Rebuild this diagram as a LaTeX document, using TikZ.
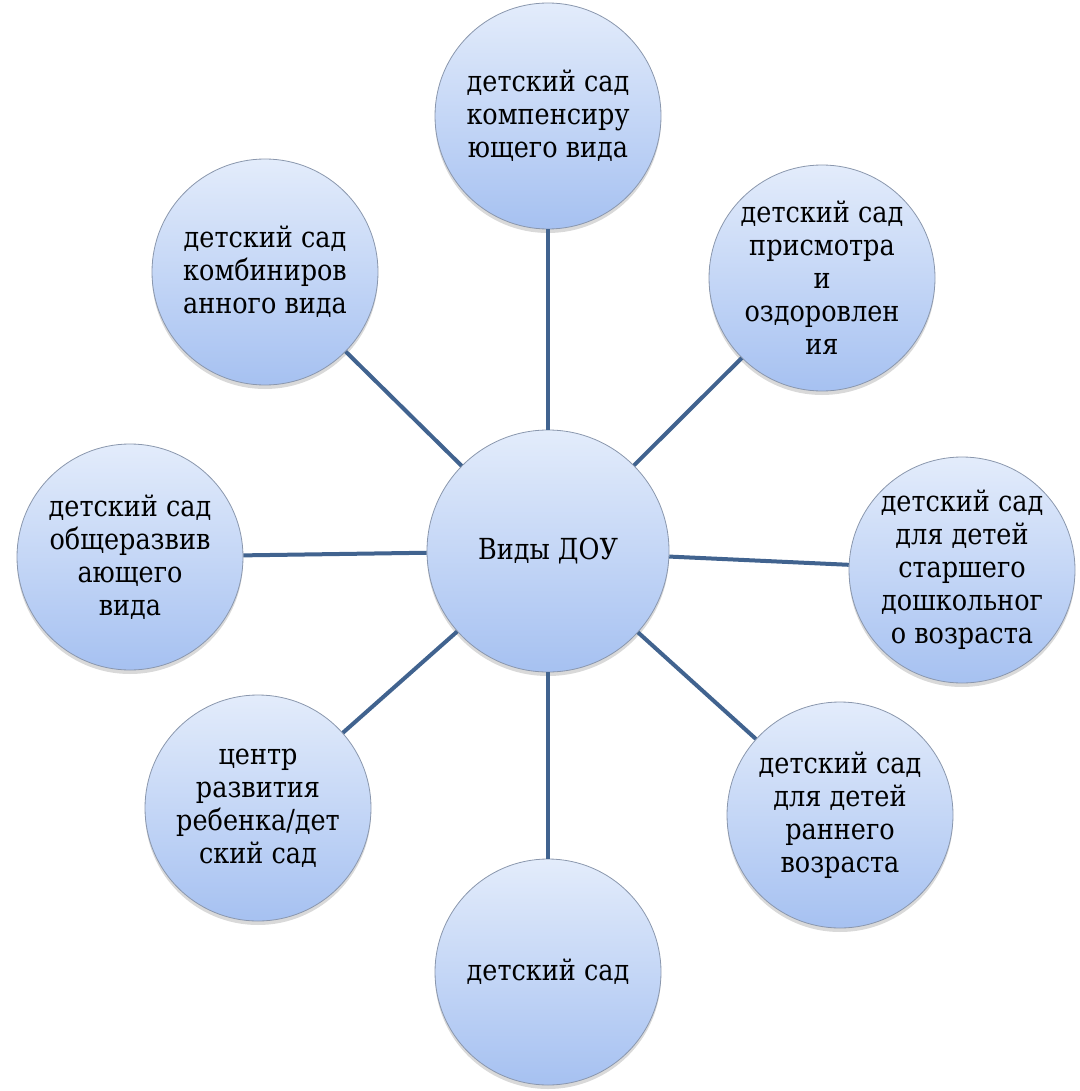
\documentclass[tikz,border=0pt]{standalone}
\usepackage{fontspec}
\setmainfont{DejaVu Serif}
\newfontfamily\bubblefont{DejaVu Serif}[FakeStretch=0.88]
\usetikzlibrary{shadows}

\definecolor{bubbletop}{HTML}{E3ECFB}
\definecolor{bubblebot}{HTML}{A6C1F1}
\definecolor{rim}{HTML}{8A97AD}
\definecolor{spoke}{HTML}{41638F}

\begin{document}
\begin{tikzpicture}[
    x=1pt, y=-1pt,
    bubble/.style={circle, draw=rim, line width=0.8pt, top color=bubbletop, bottom color=bubblebot, minimum size=226pt, inner sep=-30pt, align=center, font=\bubblefont\fontsize{29}{33}\selectfont, drop shadow={shadow xshift=0pt, shadow yshift=-4pt, opacity=0.3}},
    hub/.style={bubble, minimum size=242pt},
    spoke_line/.style={draw=spoke, line width=4pt}
]
    \useasboundingbox (0,0) rectangle (1079,1091);
    % Hub
    \node[hub] (hub) at (548,551) {Виды ДОУ};
    % Outer circles
    \node[bubble] (comp) at (548,116) {детский сад\\компенсиру\\ющего вида};
    \node[bubble] (care) at (822,278) {детский сад\\присмотра\\и\\оздоровлен\\ия};
    \node[bubble] (senior) at (962,570) {детский сад\\для детей\\старшего\\дошкольног\\о возраста};
    \node[bubble] (early) at (840,815) {детский сад\\для детей\\раннего\\возраста};
    \node[bubble] (plain) at (548,972) {детский сад};
    \node[bubble] (centre) at (258,808) {центр\\развития\\ребенка/дет\\ский сад};
    \node[bubble] (general) at (130,557) {детский сад\\общеразвив\\ающего\\вида};
    \node[bubble] (comb) at (265,272) {детский сад\\комбиниров\\анного вида};
    % Connectors
    \draw[spoke_line] (hub) -- (comp);
    \draw[spoke_line] (hub) -- (care);
    \draw[spoke_line] (hub) -- (senior);
    \draw[spoke_line] (hub) -- (early);
    \draw[spoke_line] (hub) -- (plain);
    \draw[spoke_line] (hub) -- (centre);
    \draw[spoke_line] (hub) -- (general);
    \draw[spoke_line] (hub) -- (comb);
\end{tikzpicture}
\end{document}
